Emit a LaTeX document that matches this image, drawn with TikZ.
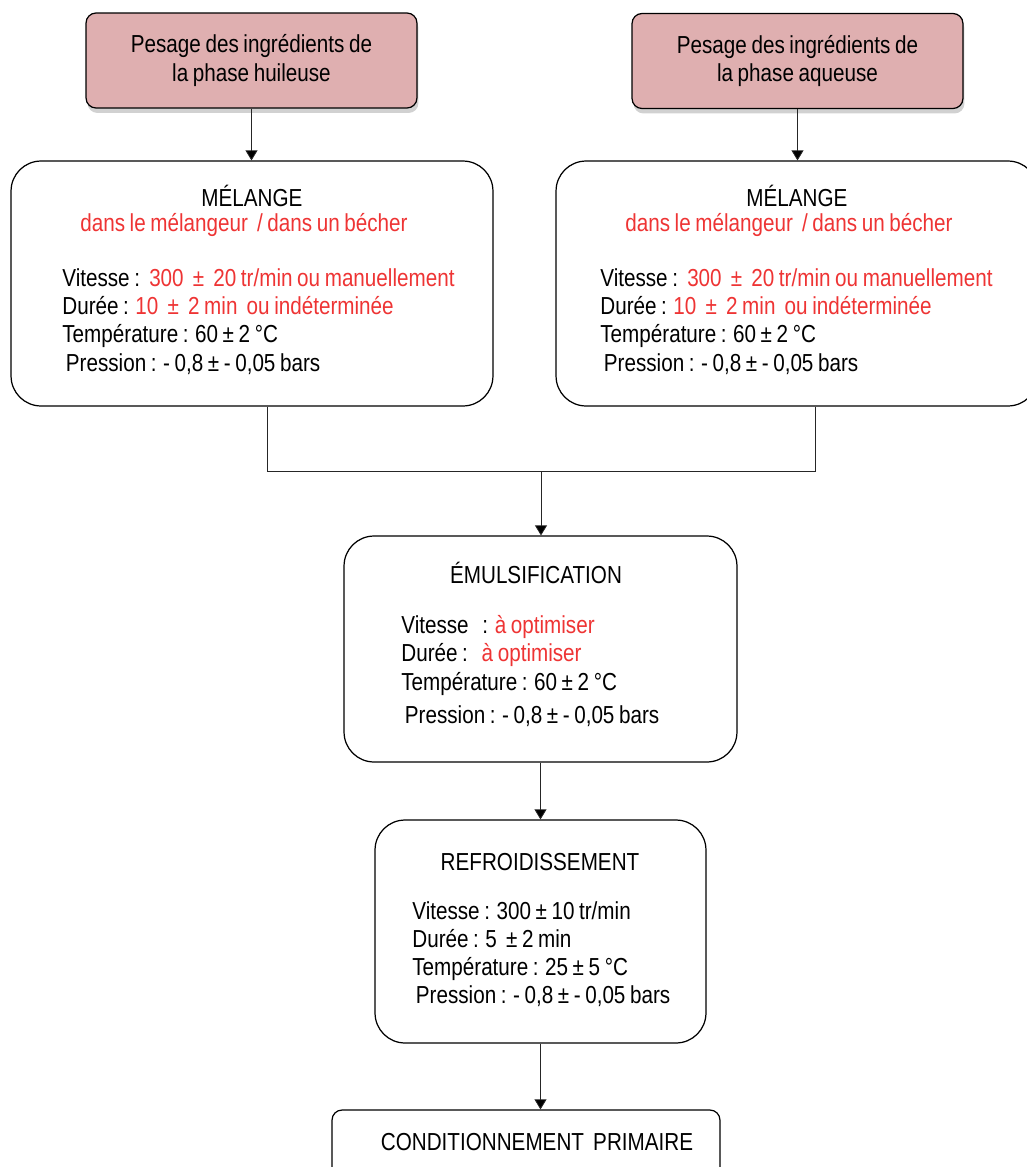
\documentclass[tikz,border=0pt]{standalone}
\usepackage{fontspec}
\setmainfont{Liberation Sans}[FakeStretch=0.84, WordSpace=0.8]
\usetikzlibrary{arrows.meta}
\usetikzlibrary{shadows}

\definecolor{rosepesage}{RGB}{223,175,176}
\definecolor{rouge}{RGB}{238,52,52}

\tikzset{
  pesage/.style={draw, fill=rosepesage, rounded corners=0.2cm, line width=0.7pt,
    minimum width=6.62cm, minimum height=1.9cm, align=center,
    drop shadow={shadow xshift=0.03cm, shadow yshift=-0.1cm, fill=black!18, opacity=1}},
  etape/.style={draw, rounded corners=0.6cm, line width=0.7pt},
  liste/.style={anchor=west, align=left, inner sep=0pt},
  fleche/.style={line width=0.45pt, draw=black!85, -{Triangle[length=0.2cm, width=0.24cm, fill=black]}},
  trait/.style={line width=0.45pt, draw=black!85},
}

\begin{document}
\begin{tikzpicture}[x=0.02cm, y=-0.02cm, font=\fontsize{14pt}{16pt}\selectfont]
\useasboundingbox (0,0) rectangle (1027,1167);

% pesage
\node[pesage] (pesH) at (251.5,60.5) {Pesage des ingrédients de\\la phase huileuse};
\node[pesage] (pesA) at (797.5,61) {Pesage des ingrédients de\\la phase aqueuse};

% melange
\foreach \nom/\xx/\xl in {mixL/252/62, mixR/797/600} {
  \node[etape, minimum width=9.64cm, minimum height=4.9cm] (\nom) at (\xx,283.5) {};
  \node (\nom-titre) at (\xx,196) {MÉLANGE};
  \node[text=rouge] (\nom-ou) at (\xx-8,225) {dans le mélangeur\ \ / dans un bécher};
  \node[liste] (\nom-liste) at (\xl,321.5) {Vitesse :\ \ \textcolor{rouge}{300\ \ ±\ \ 20 tr/min ou manuellement}\\
    Durée : \textcolor{rouge}{10\ \ ±\ \ 2 min\ \ ou indéterminée}\\
    Température : 60 ± 2 °C\\
    \hspace{2pt}Pression : - 0,8 ± - 0,05 bars};
}

% emulsification
\node[etape, minimum width=7.86cm, minimum height=4.52cm] (emul) at (540.5,649) {};
\node (emul-titre) at (536,573) {ÉMULSIFICATION};
\node[liste] (emul-liste) at (401,671) {Vitesse\ \ \ : \textcolor{rouge}{à optimiser}\\
  Durée :\ \ \ \textcolor{rouge}{à optimiser}\\
  Température : 60\ ±\ 2 °C\\[0.1cm]
  \hspace{2pt}Pression : - 0,8 ± - 0,05 bars};

% refroidissement
\node[etape, minimum width=6.62cm, minimum height=4.46cm] (refr) at (540.5,931.5) {};
\node (refr-titre) at (540,862) {REFROIDISSEMENT};
\node[liste] (refr-liste) at (412,954) {Vitesse : 300\ ±\ 10 tr/min\\
  Durée : 5\ \ ±\ 2 min\\
  Température : 25 ± 5 °C\\
  \hspace{2pt}Pression : - 0,8 ± - 0,05 bars};

% conditionnement
\node[draw, rounded corners=0.2cm, line width=0.7pt, minimum width=7.76cm, minimum height=2.4cm] (cond) at (526,1170) {};
\node (cond-titre) at (537,1142) {CONDITIONNEMENT\ \ PRIMAIRE};

% liaisons
\coordinate (jonction) at (541,471);
\draw[fleche] (pesH.south) -- (pesH.south |- mixL.north);
\draw[fleche] (pesA.south) -- (pesA.south |- mixR.north);
\draw[trait] ([xshift=0.3cm]mixL.south) |- (jonction);
\draw[trait] ([xshift=0.36cm]mixR.south) |- (jonction);
\draw[fleche] (jonction) -- (jonction |- emul.north);
\draw[fleche] (emul.south) -- (refr.north);
\draw[fleche] (refr.south) -- (refr.south |- cond.north);
\end{tikzpicture}
\end{document}
